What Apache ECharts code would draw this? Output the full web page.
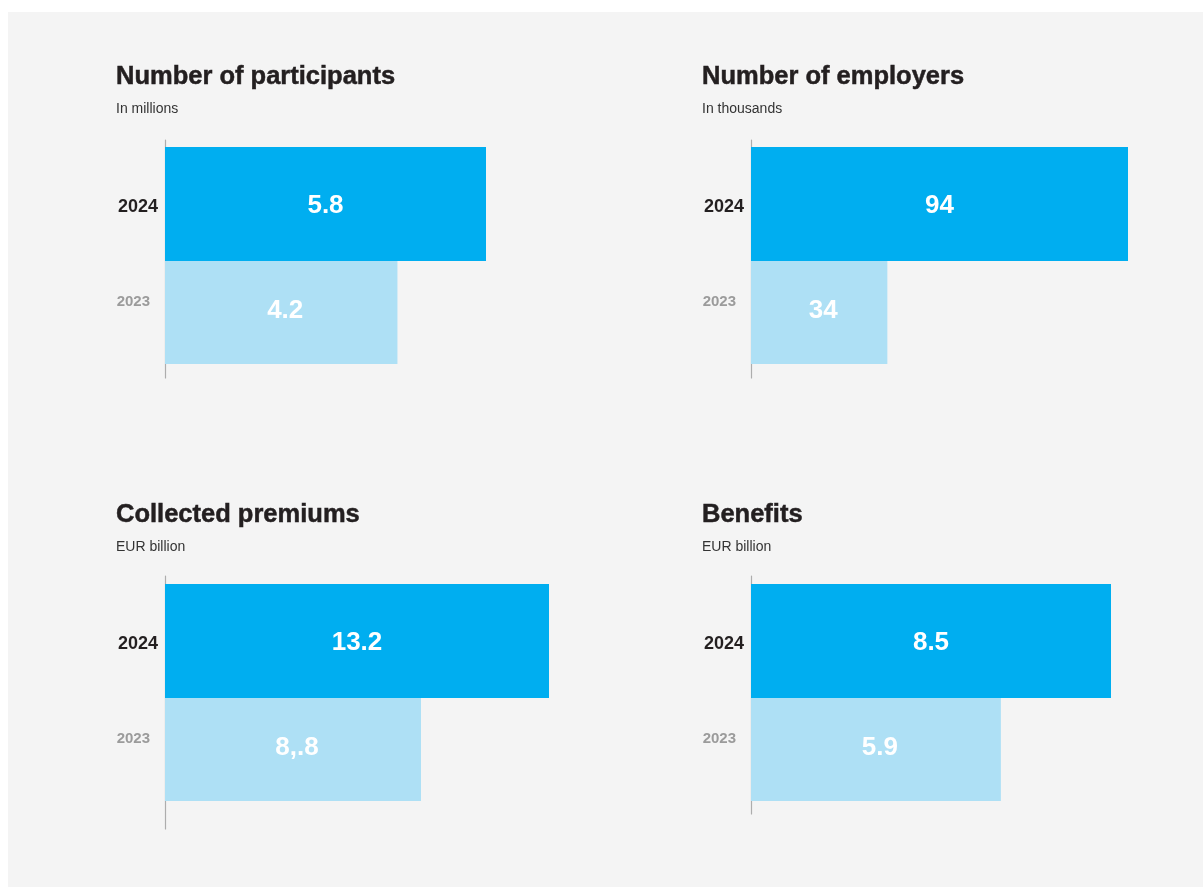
<!DOCTYPE html>
<html><head><meta charset="utf-8">
<script src="https://cdn.jsdelivr.net/npm/echarts@6/dist/echarts.min.js"></script>
<style>
html,body{margin:0;padding:0;background:#fff;}
#bg{position:absolute;left:8px;top:12px;right:0;bottom:0;background:#f4f4f4;}
#chart{position:absolute;left:0;top:0;width:1203px;height:887px;}
</style></head><body>
<div id="bg"></div><div id="chart"></div>
<script>
// ---- data ----
const years = ['2024', '2023'];
const titles = ['Number of participants', 'Number of employers', 'Collected premiums', 'Benefits'];
const subtitles = ['In millions', 'In thousands', 'EUR billion', 'EUR billion'];
const values2024 = [5.8, 94, 13.2, 8.5];
const values2023 = [4.2, 34, 8.8, 5.9];
const labels2024 = ['5.8', '94', '13.2', '8.5'];
const labels2023 = ['4.2', '34', '8,.8', '5.9'];

// ---- layout / style ----
const FONT = '"Liberation Sans", Arial, Helvetica, sans-serif';
const panels = [
  {left: 165, barTop: 147, width: 321, axisTop: 140, axisH: 238, titleLeft: 116, titleTop: 64},
  {left: 751, barTop: 147, width: 377, axisTop: 140, axisH: 238, titleLeft: 702, titleTop: 64},
  {left: 165, barTop: 584, width: 384, axisTop: 576, axisH: 253, titleLeft: 116, titleTop: 501.5},
  {left: 751, barTop: 584, width: 360, axisTop: 576, axisH: 238, titleLeft: 702, titleTop: 501.5}
];
const H2024 = 114, H2023 = 103;
const BAND = (H2024 + H2023) / 2;
const GAP = (-(BAND / H2024) * 100) + '%';
const C2024 = '#00aef0', C2023 = '#aee0f5';

const title = [], grid = [], xAxis = [], yAxis = [], series = [];
panels.forEach((p, i) => {
  title.push({
    text: titles[i], subtext: subtitles[i], left: p.titleLeft, top: p.titleTop, padding: 0, itemGap: 12,
    textStyle: {fontFamily: FONT, fontSize: 25.5, fontWeight: 'bold', color: '#231f20',
      textBorderColor: '#231f20', textBorderWidth: 0.5},
    subtextStyle: {fontFamily: FONT, fontSize: 14, color: '#333333', letterSpacing: 0.6}
  });
  const g = i * 2, ga = i * 2 + 1;
  grid.push({left: p.left, top: p.barTop, width: p.width, height: BAND * 2, containLabel: false});
  grid.push({left: p.left, top: p.axisTop, width: 10, height: p.axisH, containLabel: false});
  xAxis.push({gridIndex: g, type: 'value', min: 0, max: 'dataMax', show: false});
  xAxis.push({gridIndex: ga, type: 'value', min: 0, max: 1, show: false});
  yAxis.push({
    gridIndex: g, type: 'category', inverse: true, data: years,
    axisLine: {show: false}, axisTick: {show: false}, splitLine: {show: false},
    axisLabel: {
      margin: 7,
      formatter: v => v === years[0] ? '{a|' + v + '}' : '{b|' + v + '}',
      rich: {
        a: {fontFamily: FONT, fontSize: 18, fontWeight: 'bold', color: '#231f20',
          padding: [11, 0, 0, 0]},
        b: {fontFamily: FONT, fontSize: 15, fontWeight: 'bold', color: '#9b9b9b',
          padding: [0, 8, 16, 0]}
      }
    }
  });
  yAxis.push({
    gridIndex: ga, type: 'value', min: 0, max: 1,
    axisLine: {show: true, onZero: false, lineStyle: {color: '#adadad', width: 1.2}},
    axisTick: {show: false}, axisLabel: {show: false}, splitLine: {show: false}
  });
  const lbl = {show: true, position: 'inside', color: '#ffffff', fontFamily: FONT, fontSize: 26, fontWeight: 'bold'};
  series.push({
    type: 'bar', name: years[0], xAxisIndex: g, yAxisIndex: g,
    data: [values2024[i], '-'], barMinWidth: H2024, barGap: GAP, barCategoryGap: '30%',
    itemStyle: {color: C2024},
    label: Object.assign({}, lbl, {formatter: labels2024[i], offset: [0, 2]})
  });
  series.push({
    type: 'bar', name: years[1], xAxisIndex: g, yAxisIndex: g,
    data: ['-', values2023[i]], barMinWidth: H2023, barGap: GAP, barCategoryGap: '30%',
    itemStyle: {color: C2023},
    label: Object.assign({}, lbl, {formatter: labels2023[i], offset: [4, -2]})
  });
});

const chart = echarts.init(document.getElementById('chart'), null, {renderer: 'canvas'});
chart.setOption({
  animation: false,
  backgroundColor: 'transparent',
  title, grid, xAxis, yAxis, series
});
</script>
</body></html>
